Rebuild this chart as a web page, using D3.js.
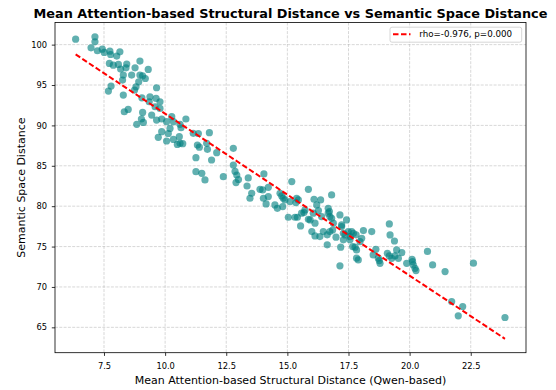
<!DOCTYPE html>
<html>
<head>
<meta charset="utf-8">
<script src="https://cdn.jsdelivr.net/npm/d3@7"></script>
<style>
  body { margin: 0; background: #fff; }
  text { font-family: "DejaVu Sans", sans-serif; fill: #000; }
</style>
</head>
<body>
<svg id="chart" width="556" height="390"></svg>
<script>
// Mean attention-based structural distance (Qwen-based), one value per item
const structDist = [
  6.34, 7.13, 7.13, 6.97, 7.23, 7.43, 7.51, 7.74, 7.77, 8.02,
  8.15, 7.72, 7.88, 8.09, 8.18, 8.43, 8.40, 8.97, 8.77, 9.31,
  8.63, 8.29, 8.26, 8.97, 9.19, 9.08, 8.92, 8.81, 8.75, 9.65,
  7.79, 7.68, 8.29, 9.05, 9.38, 9.63, 9.35, 9.79, 9.59, 9.79,
  8.49, 8.33, 9.08, 9.03, 8.84, 9.11, 9.45, 9.65, 9.86, 10.06,
  10.27, 10.34, 10.61, 10.85, 10.65, 9.86, 10.13, 10.20, 9.72, 10.06,
  10.34, 10.58, 10.61, 10.50, 10.72, 11.36, 11.81, 11.32, 11.73, 12.11,
  12.79, 11.26, 11.90, 12.79, 12.86, 12.93, 13.00, 13.40, 11.26, 11.50,
  11.63, 12.38, 13.35, 11.15, 11.70, 11.40, 13.54, 13.47, 14.04, 13.88,
  13.99, 14.22, 14.02, 14.22, 14.13, 14.49, 14.59, 14.70, 14.77, 14.83,
  14.90, 14.81, 15.11, 15.18, 15.38, 15.35, 15.45, 15.86, 15.72, 15.68,
  15.58, 15.31, 15.41, 15.04, 15.54, 15.86, 12.90, 16.09, 16.36, 16.81,
  16.67, 16.72, 16.67, 16.74, 16.81, 17.15, 17.42, 17.22, 16.88, 16.74,
  16.63, 16.99, 17.29, 17.56, 17.81, 18.11, 18.45, 17.97, 17.67, 17.77,
  17.83, 17.83, 17.90, 17.18, 16.63, 17.15, 18.62, 18.51, 18.72, 16.20,
  16.06, 16.27, 16.40, 15.93, 16.13, 16.00, 16.13, 16.33, 16.47, 18.04,
  17.63, 17.22, 17.29, 17.36, 17.49, 17.56, 17.70, 16.85, 19.17, 19.20,
  19.38, 18.76, 18.79, 19.09, 19.17, 19.27, 19.40, 19.47, 19.68, 19.54,
  19.88, 20.10, 20.12, 20.15, 20.22, 20.73, 20.94, 21.45, 22.61, 21.72,
  22.17, 21.99, 23.90, 20.26
];

// Semantic space distance for the same items
const semDist = [
  100.68, 100.97, 100.35, 99.61, 99.24, 99.44, 99.03, 99.19, 98.78, 98.58,
  99.11, 97.67, 97.46, 97.55, 96.97, 97.59, 97.13, 97.96, 97.13, 96.93,
  96.23, 96.23, 95.61, 96.23, 95.81, 96.14, 95.40, 94.78, 94.37, 94.66,
  94.87, 94.25, 93.75, 93.42, 93.55, 93.34, 92.93, 92.93, 92.31, 92.10,
  91.98, 91.69, 91.61, 90.79, 90.13, 90.37, 91.28, 90.66, 90.79, 90.46,
  91.08, 90.46, 90.13, 90.79, 89.71, 89.22, 89.00, 89.63, 88.52, 88.07,
  88.27, 88.60, 87.78, 87.65, 87.74, 89.00, 89.10, 87.57, 87.04, 86.62,
  87.16, 86.00, 85.72, 85.10, 84.30, 83.86, 83.30, 83.50, 84.27, 84.07,
  83.25, 83.65, 82.50, 89.02, 87.78, 87.30, 81.60, 80.98, 83.99, 82.09,
  82.01, 82.34, 80.98, 81.19, 80.28, 80.16, 79.74, 81.60, 81.27, 80.98,
  80.77, 79.95, 80.57, 83.04, 80.98, 80.44, 80.77, 82.09, 79.54, 79.21,
  79.13, 78.63, 78.63, 78.63, 77.56, 78.38, 82.92, 80.86, 80.77, 81.39,
  79.74, 79.33, 79.13, 78.71, 78.50, 78.92, 78.30, 77.68, 77.89, 76.86,
  76.45, 76.16, 75.83, 75.83, 76.45, 76.98, 76.86, 75.62, 75.00, 74.92,
  74.59, 73.56, 73.35, 74.92, 75.21, 72.61, 74.67, 73.97, 73.56, 80.16,
  79.13, 79.45, 78.71, 78.30, 77.89, 76.86, 76.32, 76.24, 76.86, 76.02,
  76.85, 77.47, 76.64, 76.44, 76.85, 76.23, 76.64, 77.05, 77.80, 76.44,
  75.69, 73.26, 72.93, 74.17, 73.84, 73.55, 73.84, 74.58, 74.25, 73.55,
  72.93, 73.43, 73.14, 72.73, 72.31, 74.40, 72.73, 71.90, 72.94, 68.20,
  67.58, 66.43, 66.22, 72.03
];

// Linear trend [slope, intercept] of semantic vs structural distance
const fitCoef = [-2.005, 111.5];

const xTicks = [7.5, 10, 12.5, 15, 17.5, 20, 22.5];
const yTicks = [65, 70, 75, 80, 85, 90, 95, 100];
const legendLabel = "rho=-0.976, p=0.000";

const titleText = "Mean Attention-based Structural Distance vs Semantic Space Distance";
const xLabel = "Mean Attention-based Structural Distance (Qwen-based)";
const yLabel = "Semantic Space Distance";

const svg = d3.select("#chart");
const plot = { left: 55, right: 526, top: 22.5, bottom: 352.7 };

const x = d3.scaleLinear().domain([5.496, 24.76]).range([plot.left, plot.right]);
const y = d3.scaleLinear().domain([61.86, 102.74]).range([plot.bottom, plot.top]);

// grid
const grid = svg.append("g").attr("stroke", "#b0b0b0").attr("stroke-opacity", 0.7)
  .attr("stroke-width", 0.7).attr("stroke-dasharray", "3,1.3");
grid.selectAll("line.gx").data(xTicks).join("line")
  .attr("x1", d => x(d)).attr("x2", d => x(d))
  .attr("y1", plot.top).attr("y2", plot.bottom);
grid.selectAll("line.gy").data(yTicks).join("line")
  .attr("y1", d => y(d)).attr("y2", d => y(d))
  .attr("x1", plot.left).attr("x2", plot.right);

// points
const pts = structDist.map((v, i) => ({ x: v, y: semDist[i] }));
svg.append("g").selectAll("circle").data(pts).join("circle")
  .attr("cx", d => x(d.x)).attr("cy", d => y(d.y)).attr("r", 3.6)
  .attr("fill", "#008080").attr("fill-opacity", 0.62);

// trend line across the x range of the data
const [slope, intercept] = fitCoef;
const [x0, x1] = d3.extent(structDist);
svg.append("line")
  .attr("x1", x(x0)).attr("y1", y(intercept + slope * x0))
  .attr("x2", x(x1)).attr("y2", y(intercept + slope * x1))
  .attr("stroke", "#ff0000").attr("stroke-width", 2).attr("stroke-dasharray", "5.5,2.5");

// axes
const xAxis = d3.axisBottom(x).tickValues(xTicks).tickFormat(d3.format(".1f"))
  .tickSize(3.2).tickPadding(7).tickSizeOuter(0);
const yAxis = d3.axisLeft(y).tickValues(yTicks).tickFormat(d3.format("d"))
  .tickSize(3.2).tickPadding(4.8).tickSizeOuter(0);
const gx = svg.append("g").attr("transform", `translate(0,${plot.bottom})`).call(xAxis);
const gy = svg.append("g").attr("transform", `translate(${plot.left},0)`).call(yAxis);
[gx, gy].forEach(g => {
  g.select(".domain").remove();
  g.selectAll("line").attr("stroke", "#000").attr("stroke-width", 0.8);
  g.selectAll("text").attr("font-size", "8.3px").attr("font-family", "DejaVu Sans").attr("fill", "#000");
});

// frame
svg.append("rect").attr("x", plot.left).attr("y", plot.top)
  .attr("width", plot.right - plot.left).attr("height", plot.bottom - plot.top)
  .attr("fill", "none").attr("stroke", "#000").attr("stroke-width", 0.8);

// legend
const lg = svg.append("g");
lg.append("rect").attr("x", 390).attr("y", 27.2).attr("width", 131.7).attr("height", 15).attr("rx", 2)
  .attr("fill", "#fff").attr("fill-opacity", 0.8).attr("stroke", "#cccccc").attr("stroke-width", 0.8);
lg.append("line").attr("x1", 393).attr("x2", 410.5).attr("y1", 34.2).attr("y2", 34.2)
  .attr("stroke", "#ff0000").attr("stroke-width", 2).attr("stroke-dasharray", "5.5,2.5");
lg.append("text").attr("x", 419.3).attr("y", 37.4).attr("font-size", "8.7px").text(legendLabel);

// titles
svg.append("text").attr("x", (plot.left + plot.right) / 2).attr("y", 17.6)
  .attr("text-anchor", "middle").attr("font-weight", "bold").attr("font-size", "12.85px").text(titleText);
svg.append("text").attr("x", (plot.left + plot.right) / 2).attr("y", 384)
  .attr("text-anchor", "middle").attr("font-size", "11px").text(xLabel);
svg.append("text").attr("transform", `translate(24.8,${(plot.top + plot.bottom) / 2}) rotate(-90)`)
  .attr("text-anchor", "middle").attr("font-size", "11px").text(yLabel);
</script>
</body>
</html>
